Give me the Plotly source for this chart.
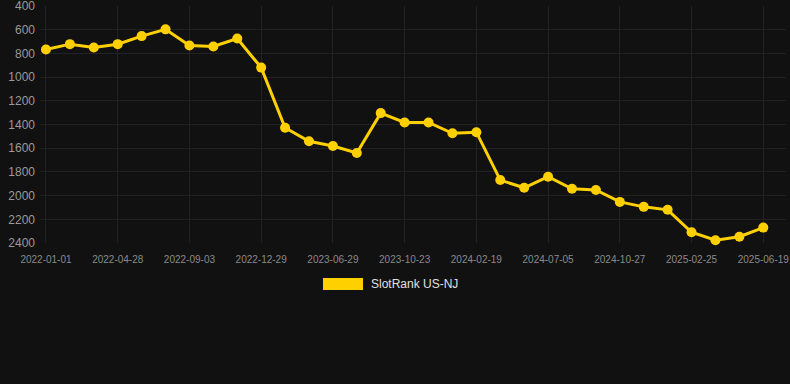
import plotly.graph_objects as go

dates = [
    "2022-01-01", "2022-02-09", "2022-03-20", "2022-04-28", "2022-06-09", "2022-07-22",
    "2022-09-03", "2022-10-12", "2022-11-20", "2022-12-29", "2023-02-28", "2023-04-29",
    "2023-06-29", "2023-08-06", "2023-09-14", "2023-10-23", "2023-12-01", "2024-01-10",
    "2024-02-19", "2024-04-05", "2024-05-21", "2024-07-05", "2024-08-13", "2024-09-19",
    "2024-10-27", "2024-12-08", "2025-01-16", "2025-02-25", "2025-04-04", "2025-05-12",
    "2025-06-19",
]
ranks = [
    767, 722, 750, 722, 654, 597, 733, 742, 674, 920,
    1428, 1541, 1581, 1640, 1304, 1383, 1383, 1474, 1465, 1869,
    1934, 1841, 1942, 1953, 2053, 2095, 2120, 2309, 2377, 2347,
    2270,
]
tick_labels = dates[::3]
y_ticks = [400, 600, 800, 1000, 1200, 1400, 1600, 1800, 2000, 2200, 2400]
series_name = "SlotRank US-NJ"
color = "#FFD000"

fig = go.Figure()
fig.add_trace(go.Scatter(
    x=dates, y=ranks, mode="lines+markers", name=series_name,
    line=dict(color=color, width=3),
    marker=dict(color=color, size=10),
    showlegend=False,
    cliponaxis=False,
))

fig.update_layout(
    width=790, height=384,
    margin=dict(l=40, r=4, t=6, b=141, autoexpand=False),
    paper_bgcolor="#111111", plot_bgcolor="#111111",
    font=dict(family="Liberation Sans, Arial, sans-serif"),
    xaxis=dict(
        type="category",
        categoryorder="array", categoryarray=dates,
        tickvals=tick_labels, ticktext=tick_labels,
        range=[-0.25, 30.95],
        showgrid=True, gridcolor="#222222", gridwidth=1,
        zeroline=False, showline=False, ticks="",
        tickfont=dict(size=10, color="#8a8a8a"),
        tickangle=0,
        ticklabeloverflow="allow",
        ticklabelstandoff=9,
        automargin=False,
    ),
    yaxis=dict(
        range=[2400, 400],
        tickvals=y_ticks,
        showgrid=True, gridcolor="#222222", gridwidth=1,
        zeroline=False, showline=False, ticks="",
        tickfont=dict(size=12, color="#9a9a9a"),
        ticklabelstandoff=4,
        ticklabeloverflow="allow",
        automargin=False,
    ),
    shapes=[dict(
        type="rect", xref="paper", yref="paper",
        x0=(323 - 40) / 746, x1=(363 - 40) / 746,
        y0=(237 - (290 - 6)) / 237, y1=(237 - (278 - 6)) / 237,
        fillcolor=color, line=dict(width=0),
    )],
    annotations=[dict(
        xref="paper", yref="paper",
        x=(369 - 40) / 746, y=(237 - (284 - 6)) / 237,
        xanchor="left", yanchor="middle",
        text=series_name, showarrow=False,
        font=dict(size=12, color="#e0e0e0"),
    )],
)

fig.write_html(
    "out.html",
    config={"displayModeBar": False},
    post_script="document.body.style.margin='0';document.body.style.background='#111111';",
)
